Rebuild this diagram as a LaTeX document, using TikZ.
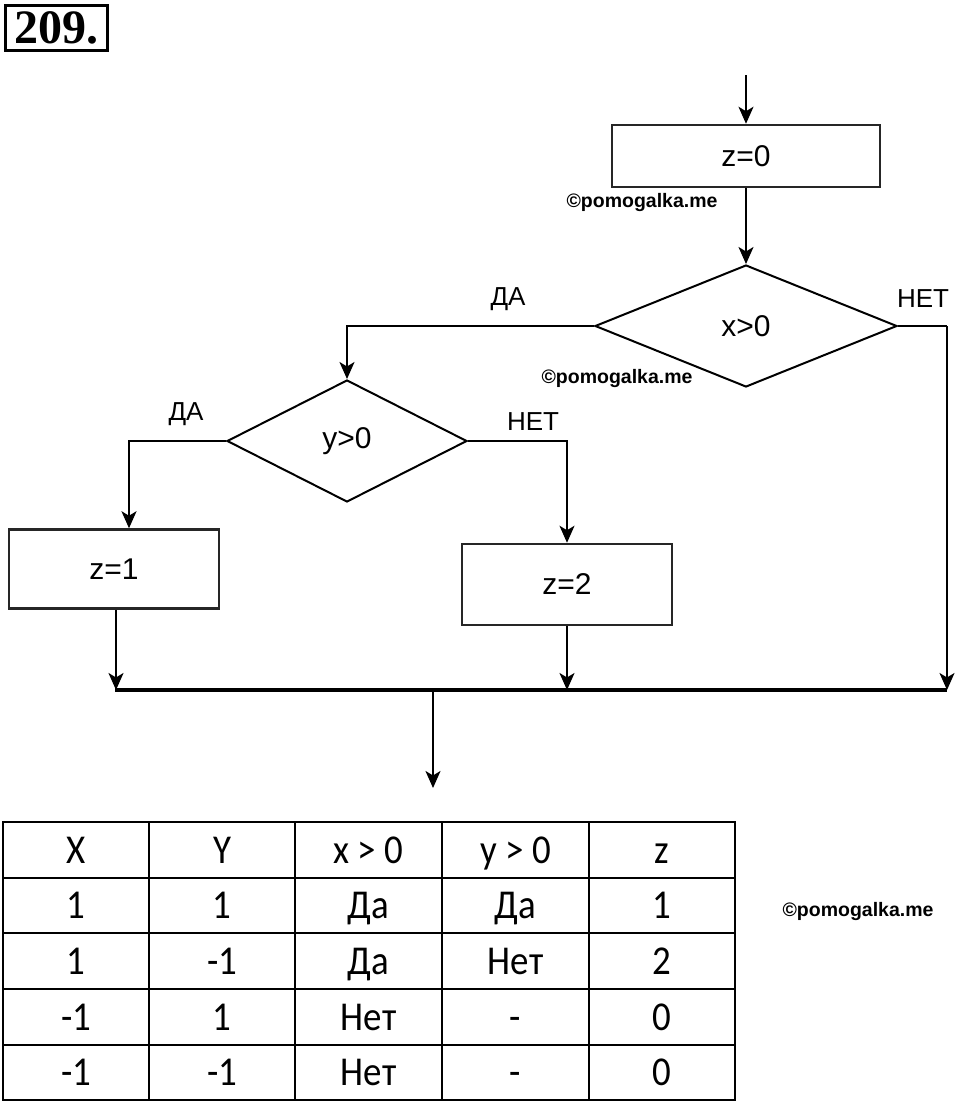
\documentclass[tikz,border=0pt]{standalone}
\usepackage{fontspec}
\setmainfont{Liberation Sans}
\newfontfamily\tabfont[FakeStretch=0.9]{Carlito}
\newfontfamily\titlefont{Liberation Serif}
\usetikzlibrary{shapes.geometric,arrows.meta}
\begin{document}
\begin{tikzpicture}[x=1pt,y=-1pt,
  box/.style={draw=black!85,line width=2.5pt,inner sep=0pt,font=\fontsize{30}{34}\selectfont},
  dec/.style={diamond,draw=black,line width=2pt,inner sep=0pt,font=\fontsize{30}{34}\selectfont},
  arr/.style={line width=2pt,-{Stealth[length=17pt,width=15pt,inset=4.5pt]}},
  ln/.style={line width=2pt},
  bus/.style={line width=4pt},
  lbl/.style={font=\fontsize{26}{30}\selectfont},
  wm/.style={font=\bfseries\fontsize{19.5}{24}\selectfont},
  cell/.style={font=\tabfont\fontsize{41}{44}\selectfont,anchor=base,inner sep=0pt},
  grid/.style={line width=2.5pt}
]
\useasboundingbox (0,0) rectangle (960,1103);

% title
\node[draw=black,line width=3pt,inner sep=0pt,minimum width=102pt,minimum height=45pt,
      font=\titlefont\bfseries\fontsize{48}{50}\selectfont] (title) at (56,27.5) {209.};

% flowchart nodes
\coordinate (start) at (746,75);
\node[box,minimum width=268pt,minimum height=62pt] (z0) at (746,156) {z=0};
\node[dec,minimum width=302pt,minimum height=122pt] (dx) at (746,326) {x>0};
\node[dec,minimum width=240pt,minimum height=122pt] (dy) at (347,441) {y>0};
\node[box,minimum width=210pt,minimum height=79pt] (z1) at (114,569) {z=1};
\node[box,minimum width=210pt,minimum height=81pt] (z2) at (567,584.5) {z=2};

\coordinate (ya) at (129,441);
\coordinate (yb) at (567,441);
\coordinate (xn) at (947,326);
\coordinate (busL) at (115,690);
\coordinate (busR) at (947,690);
\coordinate (busM) at (433,690);
\coordinate (z1b) at (116,690);
\coordinate (z2b) at (567,690);
\coordinate (out) at (433,788);

% labels
\node[lbl] (da1) at (508,299) {ДА};
\node[lbl] (net1) at (923,299) {НЕТ};
\node[lbl] (da2) at (186,414) {ДА};
\node[lbl] (net2) at (533,422) {НЕТ};

% watermarks
\node[wm] (wm1) at (642,202) {©pomogalka.me};
\node[wm] (wm2) at (617,378) {©pomogalka.me};
\node[wm] (wm3) at (858,911) {©pomogalka.me};

% connectors
\draw[arr] (start) -- (z0.north);
\draw[arr] (z0.south) -- (dx.north);
\draw[arr] (dx.west) -| (dy.north);
\draw[ln] (dx.east) -- (xn);
\draw[arr] (xn) -- (busR);
\draw[arr] (dy.west) -- (ya) -- (ya |- z1.north);
\draw[arr] (dy.east) -- (yb) -- (z2.north);
\draw[bus] (busL) -- (busR);
\draw[arr] (z1.south -| z1b) -- (z1b);
\draw[arr] (z2.south) -- (z2b);
\draw[arr] (busM) -- (out);

% table
\draw[grid] (3,822) rectangle (735,1100);
\foreach \yy in {878,933,989,1045} \draw[grid] (3,\yy) -- (735,\yy);
\foreach \xx in {149,295,442,589} \draw[grid] (\xx,822) -- (\xx,1100);

\node[cell] (h1) at (76,863) {X};
\node[cell] (h2) at (222,863) {Y};
\node[cell] (h3) at (368.5,863) {x > 0};
\node[cell] (h4) at (515.5,863) {y > 0};
\node[cell] (h5) at (662,863) {z};

\node[cell] (r11) at (76,918.5) {1};
\node[cell] (r12) at (222,918.5) {1};
\node[cell] (r13) at (368.5,918.5) {Да};
\node[cell] (r14) at (515.5,918.5) {Да};
\node[cell] (r15) at (662,918.5) {1};

\node[cell] (r21) at (76,974) {1};
\node[cell] (r22) at (222,974) {-1};
\node[cell] (r23) at (368.5,974) {Да};
\node[cell] (r24) at (515.5,974) {Нет};
\node[cell] (r25) at (662,974) {2};

\node[cell] (r31) at (76,1030) {-1};
\node[cell] (r32) at (222,1030) {1};
\node[cell] (r33) at (368.5,1030) {Нет};
\node[cell] (r34) at (515.5,1030) {-};
\node[cell] (r35) at (662,1030) {0};

\node[cell] (r41) at (76,1085.5) {-1};
\node[cell] (r42) at (222,1085.5) {-1};
\node[cell] (r43) at (368.5,1085.5) {Нет};
\node[cell] (r44) at (515.5,1085.5) {-};
\node[cell] (r45) at (662,1085.5) {0};
\end{tikzpicture}
\end{document}
